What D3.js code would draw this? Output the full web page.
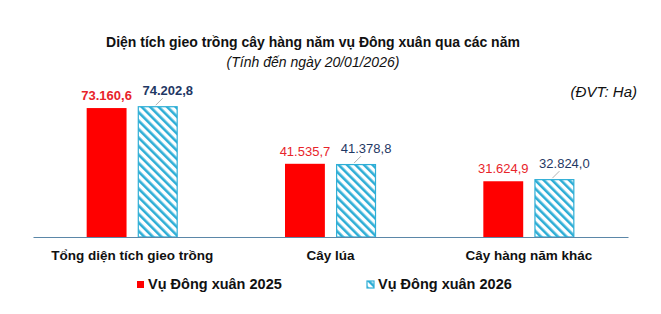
<!DOCTYPE html>
<html lang="vi">
<head>
<meta charset="UTF-8">
<title>Diện tích gieo trồng</title>
<style>
  body { margin: 0; background: #fff; }
  svg { display: block; font-family: "Liberation Sans", Arial, sans-serif; }
</style>
</head>
<body>
<div id="chart"></div>
<script src="https://d3js.org/d3.v7.min.js"></script>
<script>
// data
const categories = ["Tổng diện tích gieo trồng", "Cây lúa", "Cây hàng năm khác"];
const seriesNames = ["Vụ Đông xuân 2025", "Vụ Đông xuân 2026"];
const values2025 = [73160.6, 41535.7, 31624.9];
const values2026 = [74202.8, 41378.8, 32824.0];

const w = 661, h = 314;
const base = 237;

const svg = d3.select("#chart").append("svg")
  .attr("width", w).attr("height", h);

// hatch pattern for 2026
const defs = svg.append("defs");
const pat = defs.append("pattern")
  .attr("id", "hatch")
  .attr("patternUnits", "userSpaceOnUse")
  .attr("width", 6).attr("height", 6)
  .attr("patternTransform", "rotate(-45)");
pat.append("rect").attr("width", 6).attr("height", 6).attr("fill", "#fff");
pat.append("rect").attr("x", 0).attr("width", 2.6).attr("height", 6).attr("fill", "#2eaed6");

const x0 = d3.scaleBand().domain(categories).range([33, 628]).padding(0);
const x1 = d3.scaleBand().domain(seriesNames).range([x0.bandwidth() / 2 - 45.5, x0.bandwidth() / 2 + 45.5]).paddingInner(0.22);
const y = d3.scaleLinear().domain([0, 80000]).range([base, 96]);

const fmt = v => d3.format(",.1f")(v).replace(/,/g, "#").replace(".", ",").replace(/#/g, ".");

// title
svg.append("text")
  .attr("x", 313).attr("y", 47)
  .attr("text-anchor", "middle")
  .attr("font-weight", "bold").attr("font-size", 14)
  .attr("fill", "#111")
  .text("Diện tích gieo trồng cây hàng năm vụ Đông xuân qua các năm");
svg.append("text")
  .attr("x", 313).attr("y", 67)
  .attr("text-anchor", "middle")
  .attr("font-style", "italic").attr("font-size", 14)
  .attr("fill", "#111")
  .text("(Tính đến ngày 20/01/2026)");
svg.append("text")
  .attr("x", 637).attr("y", 97)
  .attr("text-anchor", "end")
  .attr("font-style", "italic").attr("font-size", 15)
  .attr("fill", "#111")
  .text("(ĐVT: Ha)");

const rows = categories.map((c, i) => ({ cat: c, i: i, v: [values2025[i], values2026[i]] }));

const g = svg.selectAll("g.grp").data(rows).enter().append("g")
  .attr("class", "grp")
  .attr("transform", d => "translate(" + x0(d.cat) + ",0)");

// 2025 bars
g.append("rect")
  .attr("x", x1(seriesNames[0]))
  .attr("y", d => y(d.v[0]))
  .attr("width", x1.bandwidth())
  .attr("height", d => base - y(d.v[0]))
  .attr("fill", "#ff0000");

// 2026 bars
g.append("rect")
  .attr("x", x1(seriesNames[1]) + 0.5)
  .attr("y", d => y(d.v[1]) + 0.5)
  .attr("width", x1.bandwidth() - 1)
  .attr("height", d => base - y(d.v[1]) - 0.5)
  .attr("fill", "url(#hatch)")
  .attr("stroke", "#2eaed6").attr("stroke-width", 1.2);

// value labels 2025
g.append("text")
  .attr("x", x1(seriesNames[0]) + x1.bandwidth() / 2)
  .attr("y", d => y(d.v[0]) - 8)
  .attr("text-anchor", "middle")
  .attr("font-size", 13)
  .attr("font-weight", d => d.i === 0 ? "bold" : "normal")
  .attr("fill", "#e8242a")
  .text(d => fmt(d.v[0]));

// leader lines + labels 2026 (shifted up-right)
const c2 = x1(seriesNames[1]) + x1.bandwidth() / 2;
g.append("line")
  .attr("x1", c2 - 2).attr("y1", d => y(d.v[1]) - 1)
  .attr("x2", c2 + 5).attr("y2", d => y(d.v[1]) - 8)
  .attr("stroke", "#a0a0a0").attr("stroke-width", 0.8);
g.append("text")
  .attr("x", c2 + 10)
  .attr("y", d => y(d.v[1]) - 11)
  .attr("text-anchor", "middle")
  .attr("font-size", 13)
  .attr("font-weight", d => d.i === 0 ? "bold" : "normal")
  .attr("fill", "#1f3864")
  .text(d => fmt(d.v[1]));

// axis line + category labels
const xAxis = d3.axisBottom(x0).tickSize(0).tickPadding(13);
const ax = svg.append("g")
  .attr("transform", "translate(0," + base + ")")
  .call(xAxis);
ax.select(".domain").attr("stroke", "#5b87a8").attr("stroke-width", 1.2);
ax.selectAll("text")
  .attr("font-size", 13.5).attr("font-weight", "bold")
  .attr("fill", "#111")
  .attr("font-family", "Liberation Sans, Arial, sans-serif");

// legend
const legX = [137, 367];
const leg = svg.selectAll("g.leg").data(seriesNames).enter().append("g")
  .attr("class", "leg")
  .attr("transform", (d, i) => "translate(" + legX[i] + ",281)");
leg.append("rect")
  .attr("width", 7).attr("height", 7)
  .attr("fill", (d, i) => i === 0 ? "#ff0000" : "url(#hatch)")
  .attr("stroke", (d, i) => i === 0 ? "none" : "#2eaed6")
  .attr("stroke-width", 1.2);
leg.append("text")
  .attr("x", 11).attr("y", 8)
  .attr("font-size", 14.5).attr("font-weight", "bold")
  .attr("fill", "#111")
  .text(d => d);
</script>
</body>
</html>
